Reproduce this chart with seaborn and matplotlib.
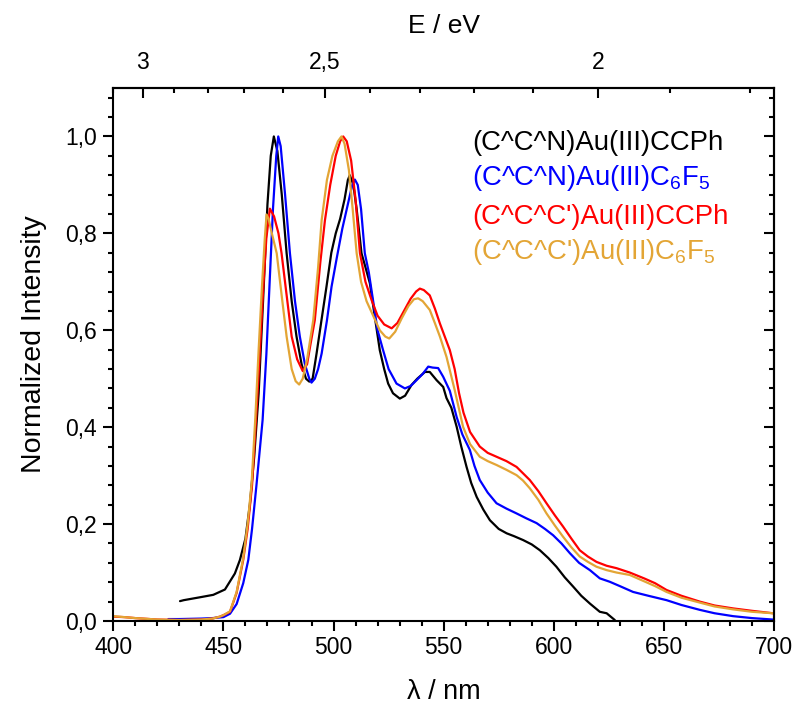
import numpy as np
import pandas as pd
import matplotlib
matplotlib.use("Agg")
import matplotlib.pyplot as plt
import seaborn as sns
from matplotlib.ticker import MultipleLocator, FuncFormatter

# Emission spectra (wavelength in nm, normalized intensity)
ccn_ccph_wl = [430.3, 432, 439.4, 445.4, 450.7, 455.2, 457.5, 460, 462, 464, 466, 468, 470, 471.5,
               472.9, 474.5, 476.5, 478.7, 481, 483.2, 485.5, 487.5, 489, 490.5, 492.3, 494.5, 496.8,
               499, 501, 503, 505, 506.5, 507.4, 509, 510.5, 512.7, 514.5, 516.5, 519, 521, 523,
               524.8, 527, 530.1, 532.5, 535.4, 538, 541.5, 543.7, 546.8, 549.8, 551.3, 553.5, 555.9,
               558, 560.4, 562.5, 565, 568, 571, 575, 578.6, 582, 586.1, 590, 593.7, 597.5, 601.2,
               605, 608.8, 612.5, 616.4, 620.9, 624, 627.7]
ccn_ccph_int = [0.041, 0.043, 0.049, 0.054, 0.065, 0.098, 0.126, 0.17, 0.24, 0.34, 0.47, 0.66, 0.86, 0.96,
                1.0, 0.97, 0.88, 0.759, 0.66, 0.587, 0.53, 0.50, 0.494, 0.50, 0.552, 0.62, 0.69,
                0.76, 0.80, 0.83, 0.87, 0.91, 0.92, 0.90, 0.85, 0.759, 0.73, 0.697, 0.62, 0.559, 0.52,
                0.49, 0.47, 0.459, 0.465, 0.487, 0.50, 0.514, 0.514, 0.497, 0.483, 0.46, 0.44, 0.401,
                0.36, 0.318, 0.285, 0.256, 0.23, 0.208, 0.19, 0.181, 0.175, 0.167, 0.158, 0.146, 0.13, 0.112,
                0.09, 0.071, 0.052, 0.036, 0.019, 0.016, 0.002]

ccn_c6f5_wl = [425, 430, 440, 445, 450, 453, 456, 459, 461.3, 463, 465, 467.8, 469.5, 471, 472.5, 474,
               474.9, 476, 478, 480.2, 482.5, 484.7, 487, 489, 490, 491.5, 493, 494.6, 497, 499.1,
               501.5, 504, 506.5, 508.5, 509.7, 511, 512.5, 514.2, 516, 518, 520, 522.5, 525, 528.6,
               532.4, 535, 537.7, 540.5, 543, 545, 547.5, 549.8, 552.8, 555.9, 558.5, 561.9, 564,
               566.4, 570, 574, 578.5, 583.1, 587.5, 592.2, 596, 599.7, 603.5, 607.3, 611.5, 616.4,
               620.9, 625.4, 630, 636, 643, 651.2, 658, 666.3, 673, 681.4, 690, 699.5]
ccn_c6f5_int = [0.004, 0.004, 0.005, 0.006, 0.008, 0.015, 0.035, 0.078, 0.126, 0.19, 0.28, 0.415, 0.55, 0.70, 0.85, 0.96,
                1.0, 0.98, 0.88, 0.759, 0.66, 0.587, 0.53, 0.50, 0.492, 0.50, 0.52, 0.552, 0.62, 0.69,
                0.75, 0.81, 0.86, 0.90, 0.911, 0.90, 0.85, 0.759, 0.72, 0.66, 0.60, 0.559, 0.52, 0.49,
                0.48, 0.485, 0.497, 0.51, 0.525, 0.523, 0.522, 0.504, 0.475, 0.421, 0.385, 0.353, 0.32,
                0.291, 0.265, 0.243, 0.232, 0.222, 0.212, 0.202, 0.19, 0.177, 0.16, 0.14, 0.12, 0.105,
                0.088, 0.081, 0.072, 0.060, 0.052, 0.043, 0.033, 0.023, 0.016, 0.01, 0.006, 0.003]

ccc_ccph_wl = [400, 405, 410, 420, 430, 440, 445, 448.4, 450, 453, 456, 459, 461, 463, 464.8, 466.5,
               468, 469.5, 471.1, 473, 475, 476.4, 478.5, 481, 483.5, 486, 488, 489.5, 491.5, 494,
               496.1, 498.5, 501, 503, 504.4, 506, 508, 510, 512, 514.5, 517.3, 520, 523, 526.4, 529,
               532, 535, 537.5, 539.2, 541, 543.7, 546, 548.3, 552.8, 555, 557, 559, 562, 566.4, 570,
               574, 578.5, 583.1, 586, 589.1, 593, 596.7, 600.5, 604.2, 608, 611.8, 615.5, 619.4, 624,
               628.5, 634.5, 641, 646, 651.2, 658, 666.3, 673, 681.4, 690, 699.5]
ccc_ccph_int = [0.009, 0.008, 0.006, 0.003, 0.002, 0.003, 0.005, 0.009, 0.012, 0.019, 0.058, 0.126, 0.19, 0.28, 0.415, 0.55,
                0.68, 0.79, 0.851, 0.835, 0.80, 0.759, 0.68, 0.587, 0.54, 0.516, 0.53, 0.57, 0.621, 0.74,
                0.827, 0.90, 0.96, 0.99, 1.0, 0.99, 0.95, 0.87, 0.759, 0.70, 0.662, 0.63, 0.612, 0.604, 0.615,
                0.64, 0.665, 0.68, 0.686, 0.683, 0.672, 0.645, 0.614, 0.559, 0.52, 0.47, 0.43, 0.39, 0.36, 0.347,
                0.339, 0.33, 0.318, 0.305, 0.291, 0.268, 0.243, 0.218, 0.195, 0.17, 0.146, 0.133, 0.122, 0.114,
                0.109, 0.100, 0.088, 0.078, 0.064, 0.052, 0.04, 0.032, 0.026, 0.021, 0.016]

ccc_c6f5_wl = [400, 405, 410, 420, 430, 440, 445, 448.4, 450, 453, 456, 459, 461, 462.8, 464.5, 466,
               467.5, 468.8, 469.6, 470.5, 472, 474.2, 476.5, 478.7, 481, 482.8, 484.4, 486, 488, 490.8,
               493, 494.6, 497, 499.5, 502, 503.6, 505, 507, 508.7, 510.5, 512.5, 515, 518, 521, 523.5,
               525.3, 528, 531, 534, 536.5, 538.4, 540.5, 543.7, 546, 548.3, 551.3, 555, 558.8, 562,
               566.4, 570, 574, 578.5, 583.1, 586, 589.1, 593, 596.7, 600.5, 604.2, 608, 611.8, 615.5,
               619.4, 624, 628.5, 634.5, 641, 646, 651.2, 658, 666.3, 673, 681.4, 690, 699.5]
ccc_c6f5_int = [0.01, 0.008, 0.006, 0.003, 0.002, 0.003, 0.005, 0.009, 0.012, 0.02, 0.06, 0.13, 0.2, 0.284, 0.42, 0.56,
                0.69, 0.79, 0.839, 0.83, 0.80, 0.759, 0.67, 0.587, 0.52, 0.495, 0.488, 0.50, 0.54, 0.621,
                0.73, 0.827, 0.91, 0.96, 0.99, 1.0, 0.985, 0.93, 0.85, 0.759, 0.70, 0.66, 0.63, 0.60, 0.587,
                0.583, 0.597, 0.625, 0.65, 0.664, 0.666, 0.66, 0.642, 0.615, 0.587, 0.545, 0.477, 0.401, 0.365,
                0.339, 0.33, 0.322, 0.312, 0.301, 0.29, 0.274, 0.25, 0.222, 0.197, 0.174, 0.152, 0.133, 0.122,
                0.112, 0.105, 0.1, 0.095, 0.082, 0.072, 0.06, 0.048, 0.038, 0.03, 0.024, 0.019, 0.016]

labels = ["(C^C^N)Au(III)CCPh",
          "(C^C^N)Au(III)C$_6$F$_5$",
          "(C^C^C')Au(III)CCPh",
          "(C^C^C')Au(III)C$_6$F$_5$"]
colors = ["#000000", "#0000FF", "#FF0000", "#E3A535"]

ev_ticks = [3, 2.5, 2]

series = [(ccn_ccph_wl, ccn_ccph_int), (ccn_c6f5_wl, ccn_c6f5_int),
          (ccc_ccph_wl, ccc_ccph_int), (ccc_c6f5_wl, ccc_c6f5_int)]
df = pd.concat([pd.DataFrame({"wl": w, "I": i, "compound": lab})
                for (w, i), lab in zip(series, labels)], ignore_index=True)

sns.set_theme(style="ticks")
plt.rcParams["font.family"] = ["Liberation Sans", "DejaVu Sans"]
plt.rcParams["mathtext.fontset"] = "custom"
plt.rcParams["mathtext.rm"] = "Liberation Sans"
plt.rcParams["mathtext.it"] = "Liberation Sans:italic"
for key in ["text.color", "axes.labelcolor", "xtick.color", "ytick.color",
            "xtick.labelcolor", "ytick.labelcolor", "axes.edgecolor"]:
    plt.rcParams[key] = "black"

fig = plt.figure(figsize=(7.95, 7.04), dpi=100)
ax = fig.add_axes([0.1425, 0.1179, 0.8311, 0.7571])

sns.lineplot(data=df, x="wl", y="I", hue="compound", palette=dict(zip(labels, colors)),
             estimator=None, sort=False, linewidth=1.6, legend=False, ax=ax)

ax.set_xlim(400, 700)
ax.set_ylim(0, 1.1)

comma = FuncFormatter(lambda v, p: f"{v:.1f}".replace(".", ","))
ax.xaxis.set_major_locator(MultipleLocator(50))
ax.xaxis.set_minor_locator(MultipleLocator(10))
ax.yaxis.set_major_locator(MultipleLocator(0.2))
ax.yaxis.set_minor_locator(MultipleLocator(0.04))
ax.yaxis.set_major_formatter(comma)

for s in ax.spines.values():
    s.set_linewidth(1.5)
    s.set_color("black")

ax.tick_params(which="both", direction="out", width=1.5, colors="black",
               labelsize=16.5, top=False, right=False)
ax.tick_params(which="major", length=7)
ax.tick_params(which="minor", length=3.5)
ax.tick_params(axis="y", pad=5)

# right-hand ticks point inward
ax_r = ax.secondary_yaxis("right")
ax_r.yaxis.set_major_locator(MultipleLocator(0.2))
ax_r.yaxis.set_minor_locator(MultipleLocator(0.04))
ax_r.tick_params(which="both", direction="in", width=1.5, colors="black", labelright=False)
ax_r.tick_params(which="major", length=7)
ax_r.tick_params(which="minor", length=3.5)
ax_r.spines["right"].set_linewidth(1.5)

# photon energy scale on top
def nm2ev(x):
    x = np.asarray(x, dtype=float)
    with np.errstate(divide="ignore"):
        return 1240.0 / x

ax_t = ax.secondary_xaxis("top", functions=(nm2ev, nm2ev))
ax_t.set_xticks(ev_ticks)
ax_t.xaxis.set_major_formatter(FuncFormatter(lambda v, p: f"{v:g}".replace(".", ",")))
ax_t.xaxis.set_minor_locator(MultipleLocator(0.1))
ax_t.tick_params(which="both", direction="in", width=1.5, colors="black", labelsize=16.5, pad=10)
ax_t.tick_params(which="major", length=7)
ax_t.tick_params(which="minor", length=3.5)
ax_t.spines["top"].set_linewidth(1.5)
ax_t.set_xlabel("E / eV", fontsize=19, labelpad=13, color="black")

ax.set_xlabel("λ / nm", fontsize=19.5, labelpad=15, color="black")
ax.set_ylabel("Normalized Intensity", fontsize=20.5, color="black")
ax.yaxis.set_label_coords(-0.1, 0.52)

label_y = [0.986, 0.914, 0.833, 0.761]
for lab, col, yy in zip(labels, colors, label_y):
    ax.text(562.8, yy, lab, color=col, fontsize=19.8, ha="left", va="center")

fig.savefig("out.png", dpi=100, facecolor="white")
